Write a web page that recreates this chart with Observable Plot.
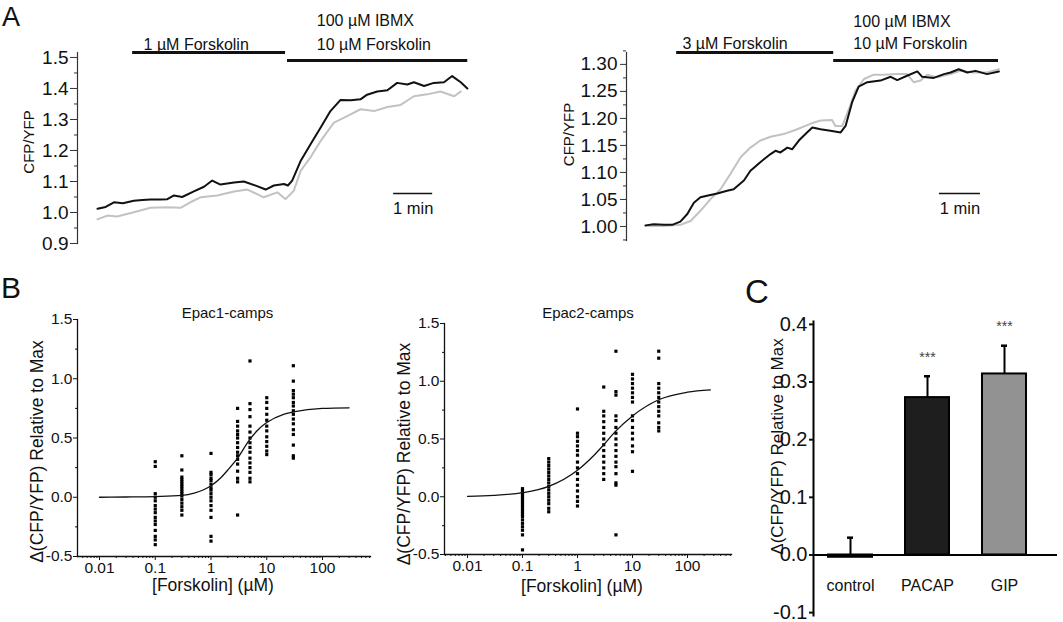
<!DOCTYPE html>
<html><head><meta charset="utf-8">
<script src="https://cdn.jsdelivr.net/npm/d3@7"></script>
<script src="https://cdn.jsdelivr.net/npm/@observablehq/plot@0.6"></script>
<style>
body{margin:0;background:#fff;}
#wrap{position:relative;width:1063px;height:622px;overflow:hidden;font-family:"Liberation Sans",Arial,Helvetica,sans-serif;color:#111;}
#wrap svg{position:absolute;left:0;top:0;}
.plabel{position:absolute;line-height:1;color:#111;}
</style></head><body><div id="wrap"></div>
<script>
// ---------- Panel A (left): 1 µM Forskolin then IBMX + 10 µM Forskolin ----------
const a1BlackT = [0,0.21,0.42,0.65,0.93,1.15,1.36,1.6,1.79,1.96,2.17,2.47,2.73,2.94,3.15,3.5,3.75,4.09,4.31,4.52,4.78,4.88,4.99,5.21,5.46,5.72,5.97,6.23,6.49,6.74,6.91,7.17,7.43,7.68,7.94,8.11,8.37,8.62,8.88,9.09,9.31,9.48];
const a1Black  = [1.012,1.018,1.033,1.03,1.038,1.04,1.042,1.042,1.043,1.055,1.05,1.068,1.083,1.103,1.09,1.097,1.1,1.085,1.074,1.087,1.092,1.087,1.103,1.167,1.22,1.274,1.327,1.363,1.362,1.365,1.38,1.39,1.394,1.418,1.413,1.42,1.408,1.418,1.42,1.44,1.42,1.4];
const a1GrayT  = [0,0.25,0.5,0.93,1.36,1.79,2.13,2.38,2.64,3.07,3.5,3.84,4.26,4.61,4.82,5.03,5.21,5.46,5.72,6.06,6.4,6.74,7.09,7.43,7.77,8.11,8.45,8.79,9.14,9.31];
const a1Gray   = [0.978,0.99,0.987,1.001,1.015,1.017,1.015,1.033,1.049,1.055,1.068,1.074,1.049,1.065,1.043,1.07,1.135,1.178,1.231,1.29,1.311,1.333,1.327,1.34,1.347,1.375,1.381,1.39,1.375,1.39];
const a1Treat  = [{start:0.9, end:4.82}, {start:4.87, end:9.49}];
const a1Labels = [{text:"100 \u00b5M IBMX", x:5.62, row:0}, {text:"1 \u00b5M Forskolin", x:1.18, row:1}, {text:"10 \u00b5M Forskolin", x:5.62, row:1}];
const a1Scale  = {start:7.59, end:8.59, y:1.061, text:"1 min"};
const a1YTicks = [0.9,1.0,1.1,1.2,1.3,1.4,1.5];
const a1YMinor = [0.95,1.05,1.15,1.25,1.35,1.45];

// ---------- Panel A (right): 3 µM Forskolin then IBMX + 10 µM Forskolin ----------
const a2BlackT = [0,0.2,0.45,0.65,0.85,1.02,1.18,1.34,1.5,1.75,1.99,2.15,2.4,2.56,2.8,3.05,3.17,3.29,3.46,3.58,3.74,3.94,4.07,4.27,4.51,4.76,4.88,5.04,5.2,5.41,5.73,5.98,6.14,6.38,6.63,6.75,7.03,7.28,7.44,7.64,7.85,8.05,8.33,8.62];
const a2Black  = [1.002,1.004,1.003,1.003,1.009,1.023,1.044,1.054,1.057,1.061,1.066,1.069,1.085,1.103,1.119,1.134,1.14,1.137,1.146,1.143,1.159,1.174,1.183,1.18,1.177,1.174,1.186,1.23,1.259,1.267,1.27,1.277,1.271,1.279,1.287,1.277,1.275,1.282,1.285,1.291,1.285,1.288,1.282,1.287];
const a2GrayT  = [0,0.45,0.85,1.1,1.34,1.59,1.83,2.07,2.32,2.56,2.8,3.05,3.37,3.7,4.02,4.27,4.55,4.63,4.8,4.96,5.12,5.33,5.57,5.81,6.14,6.38,6.54,6.71,6.87,7.11,7.44,7.68,8.01,8.33,8.62];
const a2Gray   = [1.001,1.001,1.003,1.01,1.029,1.051,1.069,1.097,1.128,1.146,1.159,1.166,1.171,1.18,1.19,1.196,1.197,1.186,1.186,1.217,1.251,1.273,1.281,1.281,1.282,1.282,1.267,1.27,1.281,1.276,1.282,1.288,1.285,1.285,1.291];
const a2Treat  = [{start:0.76, end:4.59}, {start:4.59, end:8.61}];
const a2Labels = [{text:"100 \u00b5M IBMX", x:5.07, row:0}, {text:"3 \u00b5M Forskolin", x:0.9, row:1}, {text:"10 \u00b5M Forskolin", x:5.07, row:1}];
const a2Scale  = {start:7.17, end:8.17, y:1.061, text:"1 min"};
const a2YTicks = [1.00,1.05,1.10,1.15,1.20,1.25,1.30];
const a2YMinor = [0.975,1.025,1.075,1.125,1.175,1.225,1.275,1.325];

// ---------- Panel B: dose response ----------
const conc = [0.1, 0.3, 1, 3, 5, 10, 30];
const epac1Values = [
  [0.30,0.26,0.03,0.0,-0.03,-0.07,-0.1,-0.13,-0.17,-0.2,-0.23,-0.28,-0.33,-0.36,-0.4],
  [0.35,0.23,0.17,0.15,0.13,0.11,0.09,0.07,0.05,0.03,0.01,-0.02,-0.05,-0.08,-0.11,-0.15],
  [0.37,0.21,0.19,0.16,0.14,0.11,0.08,0.06,0.03,0.0,-0.03,-0.07,-0.11,-0.17,-0.33,-0.37],
  [0.75,0.64,0.6,0.56,0.53,0.5,0.46,0.42,0.38,0.35,0.32,0.28,0.22,0.16,0.13,-0.15],
  [1.15,0.79,0.74,0.68,0.6,0.55,0.5,0.46,0.42,0.38,0.33,0.29,0.25,0.21,0.16,0.13],
  [0.84,0.8,0.75,0.7,0.65,0.6,0.56,0.51,0.47,0.43,0.39,0.36],
  [1.11,0.98,0.9,0.87,0.84,0.8,0.77,0.73,0.7,0.66,0.62,0.57,0.53,0.44,0.35,0.33]
];
const epac2Values = [
  [0.07,0.05,0.03,0.01,-0.01,-0.03,-0.05,-0.07,-0.09,-0.11,-0.13,-0.15,-0.17,-0.2,-0.23,-0.26,-0.29,-0.33,-0.46],
  [0.33,0.3,0.27,0.24,0.21,0.18,0.15,0.12,0.09,0.06,0.03,0.0,-0.03,-0.06,-0.1,-0.13],
  [0.76,0.55,0.52,0.48,0.44,0.4,0.36,0.3,0.25,0.2,0.15,0.1,0.05,0.0,-0.04,-0.08],
  [0.95,0.74,0.7,0.65,0.6,0.55,0.5,0.45,0.4,0.35,0.3,0.25,0.2,0.15],
  [1.26,0.91,0.88,0.7,0.66,0.6,0.55,0.5,0.45,0.4,0.35,0.3,0.26,0.2,0.12,0.1,-0.33],
  [1.06,1.02,0.98,0.94,0.9,0.86,0.82,0.7,0.66,0.6,0.55,0.5,0.44,0.39,0.22],
  [1.26,1.2,0.98,0.94,0.9,0.86,0.82,0.78,0.74,0.7,0.64,0.6,0.57]
];
const fit1X = [0.01,0.03,0.1,0.3,0.5,1,1.5,2,3,5,7,10,20,30,100,300];
const fit1Y = [0.0,0.002,0.006,0.015,0.035,0.097,0.165,0.23,0.33,0.49,0.57,0.63,0.70,0.72,0.75,0.755];
const fit2X = [0.01,0.03,0.1,0.3,1,2,3,5,10,30,100,260];
const fit2Y = [0.004,0.012,0.035,0.09,0.23,0.36,0.45,0.57,0.70,0.84,0.905,0.925];
const bXTicks = [0.01, 0.1, 1, 10, 100];
const bYTicks = [-0.5, 0.0, 0.5, 1.0, 1.5];
const bYMinor = [-0.25, 0.25, 0.75, 1.25];

// ---------- Panel C: bar chart ----------
const cCats = ["control", "PACAP", "GIP"];
const cMeans = [-0.004, 0.273, 0.314];
const cErrs  = [0.034, 0.037, 0.049];
const cSig   = ["", "***", "***"];
const cYTicks = [-0.1, 0.0, 0.1, 0.2, 0.3, 0.4];

// ---------------------------------------------------------------
const W = 1063, H = 622;
const FONT = '"Liberation Sans", Arial, Helvetica, sans-serif';
const wrap = document.getElementById("wrap");
function st(fs){ return `background:transparent;font-family:${FONT};font-size:${fs}px;color:#111;overflow:visible;`; }
const blank = () => "";
const TXT = {fontFamily: FONT};
const f1 = d => d3.format(".1f")(d).replace("\u2212", "-");
function minorLog(lo, hi){ const out=[]; for(let e=-3;e<=3;e++) for(let m=2;m<=9;m++){const v=m*Math.pow(10,e); if(v>lo&&v<hi) out.push(v);} return out; }

function panelA(o){
  const black = o.bt.map((t,i)=>({t, v:o.b[i]}));
  const gray = o.gt.map((t,i)=>({t, v:o.g[i]}));
  return Plot.plot({
    width:W, height:H, marginLeft:o.left, marginRight:W-o.right, marginTop:o.top, marginBottom:H-o.bottom,
    x:{domain:o.xDomain, range:o.xRange, axis:null},
    y:{domain:o.yDomain},
    style: st(19),
    marks:[
      Plot.frame({anchor:"left", stroke:"#333", strokeWidth:1.2}),
      Plot.axisY(o.yTicks, {...TXT, fontSize:19, tickSize:o.tickSize, tickPadding:o.tickPad, tickFormat:d3.format(o.fmt), stroke:"#333", label:null}),
      Plot.axisY(o.yMinor, {tickSize:3, tickFormat:blank, stroke:"#333", label:null}),
      Plot.line(gray, {x:"t", y:"v", stroke:"#c2c2c2", strokeWidth:2}),
      Plot.line(black, {x:"t", y:"v", stroke:"#111", strokeWidth:2}),
      Plot.ruleY([o.treat[0]], {x1:"start", x2:"end", y:()=>o.yDomain[1], stroke:"#111", strokeWidth:3}),
      Plot.ruleY([o.treat[1]], {x1:"start", x2:"end", y:()=>o.yDomain[1], dy:8, stroke:"#111", strokeWidth:3}),
      Plot.text(o.labels.filter(d=>d.row===0), {...TXT, x:"x", text:"text", frameAnchor:"top", textAnchor:"start", dy:o.dyRow0, fontSize:16}),
      Plot.text(o.labels.filter(d=>d.row===1), {...TXT, x:"x", text:"text", frameAnchor:"top", textAnchor:"start", dy:o.dyRow1, fontSize:16}),
      Plot.ruleY([o.scale], {x1:"start", x2:"end", y:"y", stroke:"#111", strokeWidth:1.5}),
      Plot.text([o.scale], {...TXT, x:d=>(d.start+d.end)/2, y:"y", text:"text", dy:15, fontSize:16.5}),
      Plot.text(["CFP/YFP"], {...TXT, frameAnchor:"left", textAnchor:"middle", rotate:-90, dx:o.labDx, dy:o.labDy, fontSize:15})
    ]
  });
}

wrap.appendChild(panelA({
  bt:a1BlackT, b:a1Black, gt:a1GrayT, g:a1Gray, treat:a1Treat, labels:a1Labels, scale:a1Scale,
  yTicks:a1YTicks, yMinor:a1YMinor, fmt:".1f",
  left:77, right:470, top:52, bottom:243, xDomain:[0,9.56], xRange:[97,470], yDomain:[0.9,1.516],
  tickSize:7, tickPad:2, dyRow0:-38, dyRow1:-14, labDx:-48.5, labDy:-6
}));
wrap.appendChild(panelA({
  bt:a2BlackT, b:a2Black, gt:a2GrayT, g:a2Gray, treat:a2Treat, labels:a2Labels, scale:a2Scale,
  yTicks:a2YTicks, yMinor:a2YMinor, fmt:".2f",
  left:626, right:998, top:52, bottom:240, xDomain:[0,8.61], xRange:[645,998], yDomain:[0.974,1.322],
  tickSize:6, tickPad:3, dyRow0:-37, dyRow1:-14.5, labDx:-57.5, labDy:-12
}));

function panelB(o){
  const pts = [];
  conc.forEach((c,i)=>o.values[i].forEach(v=>pts.push({c, v})));
  const fit = o.fx.map((x,i)=>({x, y:o.fy[i]}));
  return Plot.plot({
    width:W, height:H, marginLeft:o.left, marginRight:W-o.right, marginTop:o.top, marginBottom:H-o.bottom,
    x:{type:"log", domain:o.xDomain},
    y:{domain:[-0.5,1.5]},
    style: st(15.5),
    marks:[
      Plot.frame({anchor:"left", stroke:"#111", strokeWidth:1.3}),
      Plot.frame({anchor:"bottom", stroke:"#111", strokeWidth:1.3}),
      Plot.axisY(bYTicks, {...TXT, fontSize:15.5, tickSize:4, tickPadding:1, tickFormat:f1, label:null}),
      Plot.axisY(bYMinor, {tickSize:2, tickFormat:blank, label:null}),
      Plot.axisX(bXTicks, {...TXT, fontSize:15.5, tickSize:4, tickPadding:1, tickFormat:d=>String(d), label:null}),
      Plot.axisX(minorLog(o.xDomain[0], o.xDomain[1]), {tickSize:2, tickFormat:blank, label:null}),
      Plot.dot(pts, {x:"c", y:"v", symbol:"square", r:1.8, fill:"#000", stroke:null}),
      Plot.line(fit, {x:"x", y:"y", curve:"monotone-x", stroke:"#111", strokeWidth:1.3}),
      Plot.text([o.title], {...TXT, frameAnchor:"top", dx:o.tDx, dy:o.tDy, fontSize:15}),
      Plot.text(["[Forskolin] (\u00b5M)"], {...TXT, frameAnchor:"bottom", dx:o.xlDx, dy:o.xlDy, fontSize:17.5}),
      Plot.text(["\u0394(CFP/YFP) Relative to Max"], {...TXT, frameAnchor:"left", textAnchor:"middle", rotate:-90, dx:o.ylDx, dy:o.ylDy, fontSize:17.5})
    ]
  });
}
wrap.appendChild(panelB({values:epac1Values, fx:fit1X, fy:fit1Y, title:"Epac1-camps",
  left:77, right:370, top:319, bottom:556, xDomain:[0.00403, 726],
  tDx:3.5, tDy:-12, xlDx:-11, xlDy:34, ylDx:-40, ylDy:13.5}));
wrap.appendChild(panelB({values:epac2Values, fx:fit2X, fy:fit2Y, title:"Epac2-camps",
  left:444, right:731, top:323, bottom:554, xDomain:[0.00382, 631],
  tDx:0, tDy:-16, xlDx:-6, xlDy:37.5, ylDx:-40.5, ylDy:15}));

// Panel C
const cData = cCats.map((cat,i)=>({cat, mean:cMeans[i], err:cErrs[i], sig:cSig[i]}));
wrap.appendChild(Plot.plot({
  width:W, height:H, marginLeft:813, marginRight:6, marginTop:321, marginBottom:7,
  x:{type:"band", domain:cCats, range:[810.7,1043.8], paddingInner:0.434, paddingOuter:0.217, axis:null},
  y:{domain:[-0.105,0.405]},
  color:{domain:cCats, range:["#000000","#1e1e1e","#929292"]},
  style: st(20),
  marks:[
    Plot.frame({anchor:"left", stroke:"#000", strokeWidth:2}),
    Plot.axisY(cYTicks, {...TXT, fontSize:20, tickSize:4, tickPadding:2, strokeWidth:2, tickFormat:f1, label:null}),
    Plot.ruleX(cData, {x:"cat", y1:"mean", y2:d=>d.mean+d.err, stroke:"#000", strokeWidth:2}),
    Plot.tickY(cData, {x:"cat", y:d=>d.mean+d.err, stroke:"#000", strokeWidth:2.5, insetLeft:19, insetRight:19}),
    Plot.barY(cData, {x:"cat", y:"mean", fill:"cat", stroke:"#000", strokeWidth:2}),
    Plot.ruleY([0], {stroke:"#000", strokeWidth:2}),
    Plot.text(cData.filter(d=>d.sig), {...TXT, x:"cat", y:d=>d.mean+d.err, text:"sig", dy:-19, fontSize:14, fill:"#444"}),
    Plot.text(cData, {...TXT, x:"cat", text:"cat", frameAnchor:"bottom", dy:-25, fontSize:16}),
    Plot.text(["\u0394(CFP/YFP) Relative to Max"], {...TXT, frameAnchor:"left", textAnchor:"middle", rotate:-90, dx:-36, dy:-22, fontSize:17})
  ]
}));

// panel letters
[["A",2,4,27],["B",1,272.6,30],["C",745,274.6,33]].forEach(([t,x,y,fs])=>{
  const d=document.createElement("div"); d.className="plabel"; d.textContent=t;
  d.style.left=x+"px"; d.style.top=y+"px"; d.style.fontSize=fs+"px"; wrap.appendChild(d);
});
</script></body></html>
